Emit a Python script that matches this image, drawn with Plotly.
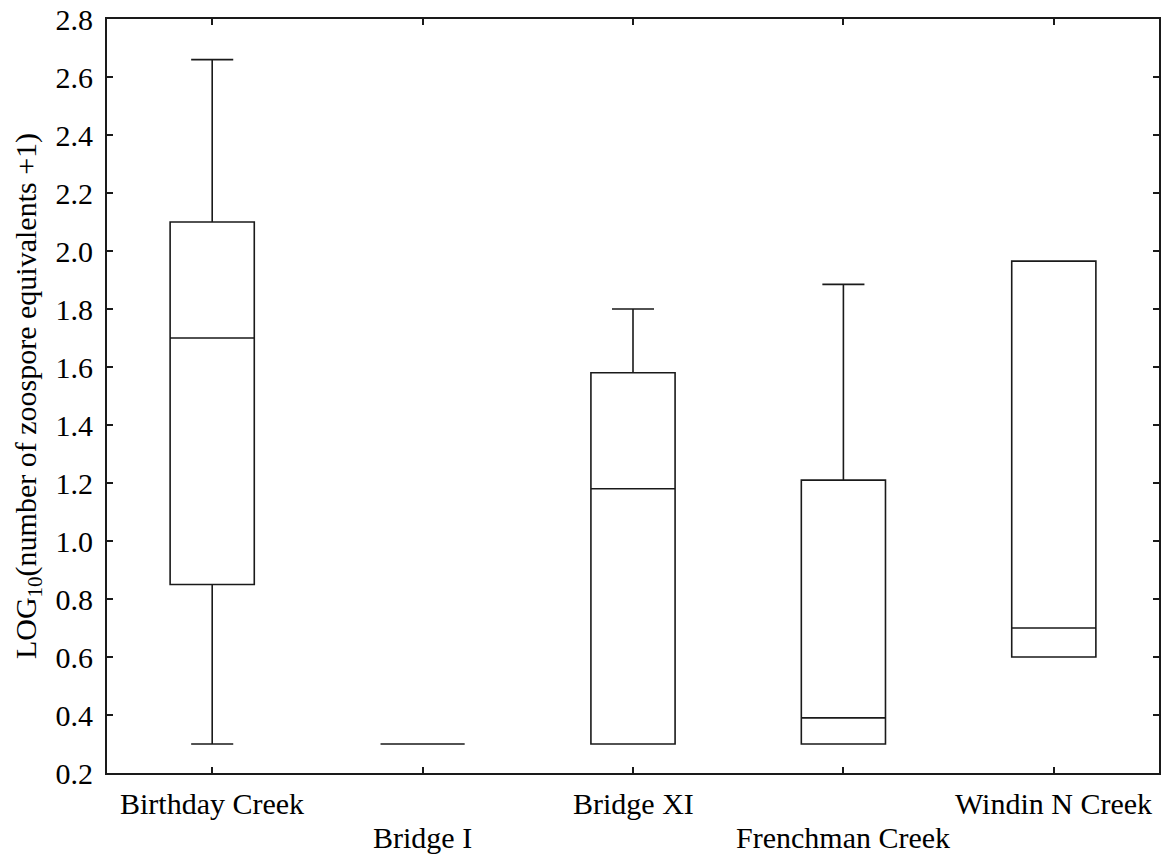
import plotly.graph_objects as go

categories = ["Birthday Creek", "Bridge I", "Bridge XI", "Frenchman Creek", "Windin N Creek"]
minimum = [0.30, 0.30, 0.30, 0.30, 0.60]
q1 = [0.85, 0.30, 0.30, 0.30, 0.60]
median = [1.70, 0.30, 1.18, 0.39, 0.70]
q3 = [2.10, 0.30, 1.58, 1.21, 1.965]
maximum = [2.66, 0.30, 1.80, 1.885, 1.965]
y_ticks = [0.2, 0.4, 0.6, 0.8, 1.0, 1.2, 1.4, 1.6, 1.8, 2.0, 2.2, 2.4, 2.6, 2.8]

FONT = "Liberation Serif, Times New Roman, serif"
LINE = "#1a1a1a"
PLOT_H = 754

fig = go.Figure()
fig.add_trace(go.Box(
    x=categories,
    q1=q1, median=median, q3=q3,
    lowerfence=minimum, upperfence=maximum,
    width=0.4, whiskerwidth=0.5,
    fillcolor="white",
    line=dict(color=LINE, width=1.6),
    boxpoints=False,
    showlegend=False,
    hoverinfo="skip",
))

# staggered category labels (target screen y 803 / 837)
for i, c in enumerate(categories):
    py = 803 if i % 2 == 0 else 837
    fig.add_annotation(
        x=c, xref="x", y=(773 - py) / PLOT_H, yref="paper",
        text=c, showarrow=False, xanchor="center", yanchor="middle",
        font=dict(family=FONT, size=30, color="black"),
    )

fig.update_layout(
    width=1167, height=856,
    margin=dict(l=107, r=8, t=19, b=83),
    paper_bgcolor="white", plot_bgcolor="white",
    font=dict(family=FONT, size=30, color="black"),
)
fig.update_xaxes(
    type="category", range=[-0.5, 4.5], automargin=False,
    tickmode="array", tickvals=categories, showticklabels=False,
    ticks="inside", ticklen=6, tickwidth=1.5, tickcolor=LINE,
    showline=True, linecolor=LINE, linewidth=2, mirror="ticks",
    showgrid=False, zeroline=False,
)
fig.update_yaxes(
    range=[0.2, 2.8], automargin=False,
    tickmode="array", tickvals=y_ticks, ticktext=[f"{v:.1f}" for v in y_ticks],
    ticks="inside", ticklen=6, tickwidth=1.5, tickcolor=LINE,
    showline=True, linecolor=LINE, linewidth=2, mirror="ticks",
    showgrid=False, zeroline=False,
    tickfont=dict(family=FONT, size=30),
    ticklabelstandoff=6, ticklabeloverflow="allow",
    title=dict(text="LOG<sub>10</sub>(number of zoospore equivalents +1)",
               font=dict(family=FONT, size=30), standoff=10),
)

fig.write_html(
    "out.html",
    config={"displayModeBar": False},
    post_script="document.body.style.margin='0';document.body.style.overflow='hidden';",
)
